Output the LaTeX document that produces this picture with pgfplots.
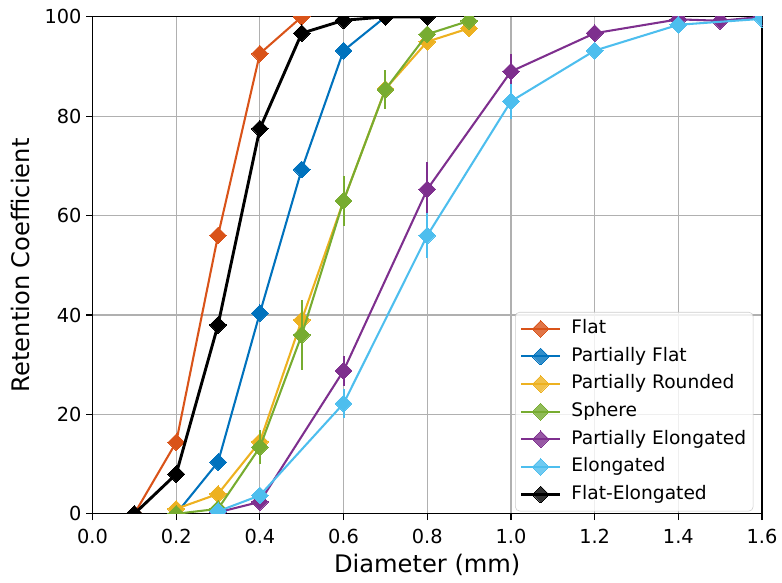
\documentclass[border=0pt]{standalone}
\usepackage{pgfplots}
\pgfplotsset{compat=1.18}
\usepackage{pgfplotstable}
\usepackage{fontspec}
\setmainfont{DejaVu Sans}
\definecolor{cFlat}{HTML}{D95319}
\definecolor{cPF}{HTML}{0072BD}
\definecolor{cPR}{HTML}{EDB120}
\definecolor{cSph}{HTML}{77AC30}
\definecolor{cPE}{HTML}{7E2F8E}
\definecolor{cEl}{HTML}{4DBEEE}
\definecolor{gridc}{HTML}{B0B0B0}

\pgfplotstableread{
x y e
0.1 0 0
0.2 14.4 0
0.3 56 0
0.4 92.6 0
0.5 100 0
}\tFlat
\pgfplotstableread{
x y e
0.2 0 0
0.3 10.4 0
0.4 40.4 0
0.5 69.3 0
0.6 93.2 0
0.7 100 0
}\tPF
\pgfplotstableread{
x y e
0.2 1.0 0
0.3 4.0 0
0.4 14.5 2
0.5 39 4
0.6 63 2
0.7 85.5 2
0.8 95 1
0.9 97.7 1
}\tPR
\pgfplotstableread{
x y e
0.2 0 0
0.3 1.0 0.5
0.4 13.4 3.4
0.5 36 7
0.6 63 5
0.7 85.4 4
0.8 96.5 1
0.9 99.2 0.5
}\tSph
\pgfplotstableread{
x y e
0.3 0.3 0
0.4 2.4 0
0.6 28.8 3
0.8 65.3 5.5
1.0 89 3.5
1.2 96.7 0
1.4 99.5 0
1.5 99.2 0
1.6 100 0
}\tPE
\pgfplotstableread{
x y e
0.3 0.5 0
0.4 3.7 0
0.6 22.2 3
0.8 56 4.5
1.0 83 3.5
1.2 93.2 0
1.4 98.4 0
1.6 99.6 0
}\tEl
\pgfplotstableread{
x y e
0.1 0 0
0.2 8 0
0.3 38 0
0.4 77.5 0
0.5 96.7 0
0.6 99.3 0
0.7 100 0
0.8 100 0
}\tFE

\begin{document}
\begin{tikzpicture}
\begin{axis}[
  scale only axis,
  width=485pt, height=360pt,
  xmin=0, xmax=1.6, ymin=0, ymax=100,
  xtick={0,0.2,...,1.6},
  ytick={0,20,...,100},
  xticklabel style={yshift=-3pt, /pgf/number format/.cd, fixed, fixed zerofill, precision=1},
  /pgf/number format/assume math mode=true,
  tick label style={font=\fontsize{14}{16}\selectfont},
  label style={font=\fontsize{17.5}{21}\selectfont},
  xlabel={Diameter (mm)},
  ylabel={Retention Coefficient},
  ylabel shift=4pt,
  xlabel shift=1pt,
  grid=major,
  grid style={gridc, line width=0.8pt},
  axis line style={line width=0.8pt},
  tick align=outside,
  tick pos=left,
  major tick length=4.5pt,
  every tick/.style={black, line width=0.8pt},
  clip marker paths=true,
  legend style={at={(0.987,0.005)}, anchor=south east, draw=black!20, rounded corners=3pt,
    fill=white, fill opacity=0.8, text opacity=1, font=\fontsize{13.5}{16}\selectfont,
    inner xsep=3pt, inner ysep=2pt, row sep=0pt, column sep=5pt,
    nodes={text height=10pt, text depth=3pt, inner ysep=3.5pt}},
  legend cell align=left,
  legend image code/.code={
    \draw[mark repeat=2,mark phase=2] plot coordinates {(0cm,0cm) (0.5cm,0cm) (1cm,0cm)};
  },
  every axis plot/.append style={mark=square*, mark size=4.3pt, mark options={solid, rotate=45, line width=0pt},
    error bars/y dir=both, error bars/y explicit, error bars/error mark=none,
    error bars/error bar style={line width=1.5pt}},
]
\addplot[color=cFlat, line width=1.5pt] table[x=x,y=y,y error=e] {\tFlat};
\addlegendentry{Flat}
\addplot[color=cPF, line width=1.5pt] table[x=x,y=y,y error=e] {\tPF};
\addlegendentry{Partially Flat}
\addplot[color=cPR, line width=1.5pt] table[x=x,y=y,y error=e] {\tPR};
\addlegendentry{Partially Rounded}
\addplot[color=cSph, line width=1.5pt] table[x=x,y=y,y error=e] {\tSph};
\addlegendentry{Sphere}
\addplot[color=cPE, line width=1.5pt] table[x=x,y=y,y error=e] {\tPE};
\addlegendentry{Partially Elongated}
\addplot[color=cEl, line width=1.5pt] table[x=x,y=y,y error=e] {\tEl};
\addlegendentry{Elongated}
\addplot[color=black, line width=2.1pt] table[x=x,y=y,y error=e] {\tFE};
\addlegendentry{Flat-Elongated}
\end{axis}
\path (current axis.south west) ++(-67pt,-49.7pt) rectangle ([shift={(11.5pt,12.2pt)}]current axis.north east);
\end{tikzpicture}
\end{document}
